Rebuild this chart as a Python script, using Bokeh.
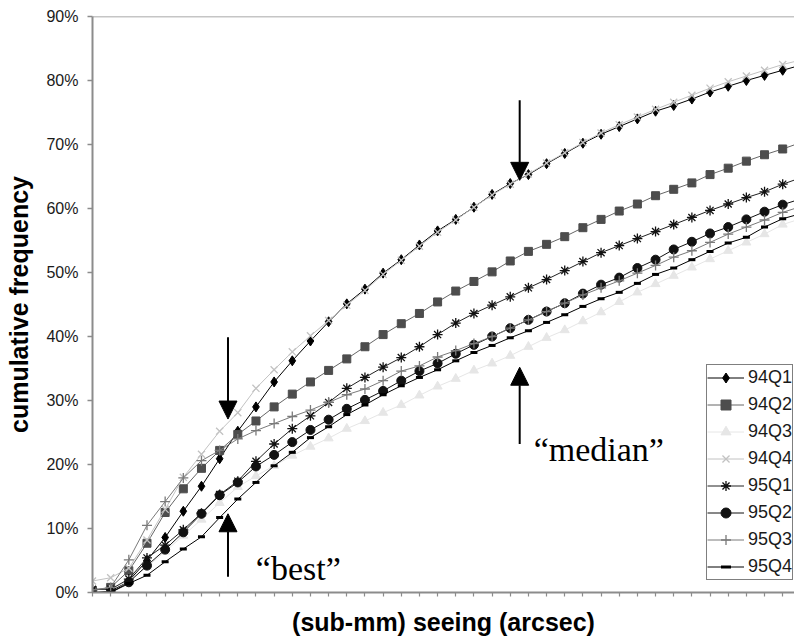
from bokeh.plotting import figure
from bokeh.models import (Range1d, FixedTicker, Span, Legend, LegendItem,
                          Arrow, NormalHead, Label)
from bokeh.embed import file_html
from bokeh.resources import INLINE

# ---------------- data (cumulative frequency, %) ----------------
seeing_index = list(range(40))

s94q1 = [0.0, 0.2, 1.8, 5.0, 8.6, 12.7, 16.6, 20.9, 25.2, 29.0, 32.9, 36.2, 39.3, 42.3,
         45.1, 47.4, 49.9, 52.0, 54.3, 56.5, 58.3, 60.2, 62.2, 63.9, 65.3, 67.0, 68.6,
         70.2, 71.6, 72.8, 74.0, 75.2, 76.1, 77.1, 78.2, 79.1, 80.0, 80.8, 81.6, 82.4]
s94q2 = [0.3, 0.8, 3.4, 7.7, 12.5, 16.2, 19.4, 22.2, 24.7, 26.8, 29.0, 31.0, 32.9, 34.7,
         36.5, 38.4, 40.3, 42.0, 43.6, 45.4, 47.1, 48.6, 50.1, 51.8, 53.3, 54.4, 55.6,
         57.0, 58.3, 59.6, 60.7, 62.0, 63.0, 64.0, 65.3, 66.3, 67.4, 68.4, 69.3, 70.3]
s94q3 = [0.5, 0.5, 1.8, 4.0, 6.4, 8.9, 11.4, 14.0, 16.5, 18.2, 19.8, 21.4, 22.8, 24.1,
         25.6, 26.8, 28.1, 29.3, 30.8, 32.2, 33.4, 34.7, 35.8, 37.0, 38.4, 39.8, 41.0,
         42.4, 43.8, 45.4, 46.9, 48.2, 49.5, 50.8, 52.1, 53.4, 54.7, 56.0, 57.5, 58.4]
s94q4 = [1.8, 2.3, 3.8, 8.2, 13.0, 18.0, 21.6, 25.2, 28.1, 31.9, 34.8, 37.6, 40.1, 42.5,
         44.9, 47.2, 49.7, 51.9, 54.1, 56.3, 58.2, 60.2, 62.1, 63.8, 65.4, 67.1, 68.7,
         70.3, 71.8, 73.1, 74.3, 75.5, 76.6, 77.7, 78.8, 79.8, 80.7, 81.6, 82.5, 83.2]
s95q1 = [0.5, 0.5, 2.1, 5.4, 7.4, 9.8, 12.4, 15.3, 17.4, 20.5, 23.2, 25.6, 27.6, 29.7,
         31.9, 33.6, 35.2, 36.7, 38.4, 40.3, 42.1, 43.6, 44.9, 46.2, 47.6, 48.9, 50.3,
         51.7, 53.1, 54.2, 55.3, 56.4, 57.5, 58.6, 59.7, 60.7, 61.7, 62.6, 63.8, 64.8]
s95q2 = [0.0, 0.0, 1.6, 4.2, 6.7, 9.4, 12.3, 15.2, 17.2, 19.7, 21.5, 23.5, 25.4, 27.0,
         28.7, 30.1, 31.5, 33.1, 34.6, 35.8, 37.3, 38.7, 40.0, 41.3, 42.6, 43.9, 45.2,
         46.7, 48.1, 49.2, 50.7, 52.0, 53.6, 54.8, 56.1, 57.1, 58.3, 59.5, 60.6, 61.5]
s95q3 = [0.4, 0.8, 5.1, 10.5, 14.2, 17.9, 20.6, 22.2, 24.0, 25.3, 26.4, 27.5, 28.5, 29.7,
         30.9, 31.8, 33.1, 34.6, 35.4, 36.8, 37.8, 38.9, 40.0, 41.3, 42.6, 43.9, 45.2,
         46.5, 47.6, 48.7, 49.9, 51.1, 52.4, 53.4, 54.7, 56.0, 57.1, 58.2, 59.4, 60.3]
s95q4 = [0.0, 0.0, 1.4, 2.7, 4.8, 6.8, 8.7, 11.7, 14.6, 17.2, 19.8, 21.9, 24.2, 25.9,
         27.8, 29.3, 30.9, 32.3, 33.6, 34.8, 36.2, 37.5, 38.6, 39.8, 40.9, 42.2, 43.4,
         44.7, 45.9, 46.9, 48.3, 49.7, 50.7, 52.0, 53.3, 54.6, 55.5, 57.1, 58.4, 59.2]

series_names = ["94Q1", "94Q2", "94Q3", "94Q4", "95Q1", "95Q2", "95Q3", "95Q4"]
series_values = [s94q1, s94q2, s94q3, s94q4, s95q1, s95q2, s95q3, s95q4]

y_ticks = [0, 10, 20, 30, 40, 50, 60, 70, 80, 90]
y_tick_labels = ["0%", "10%", "20%", "30%", "40%", "50%", "60%", "70%", "80%", "90%"]

# annotation positions (x in seeing-bin units, y in %)
best_arrow_x = 7.46
best_arrow_down = (39.9, 27.1)
best_arrow_up = (2.45, 12.3)
median_arrow_x = 23.52
median_arrow_down = (76.9, 64.4)
median_arrow_up = (23.2, 35.2)
best_text = ("\u201cbest\u201d", 8.99, 3.8)
median_text = ("\u201cmedian\u201d", 24.29, 22.4)

# ---------------- styles ----------------
styles = {
    "94Q1": dict(marker="diamond", size=10, color="#000000", line="#000000", lw=1),
    "94Q2": dict(marker="square", size=8, color="#4d4d4d", line="#666666", lw=1),
    "94Q3": dict(marker="triangle", size=9, color="#e6e6e6", line="#e6e6e6", lw=1),
    "94Q4": dict(marker="x", size=10, color="#c2c2c2", line="#c2c2c2", lw=1),
    "95Q1": dict(marker="asterisk", size=10, color="#111111", line="#222222", lw=1),
    "95Q2": dict(marker="circle", size=9, color="#111111", line="#111111", lw=1),
    "95Q3": dict(marker="cross", size=10, color="#7a7a7a", line="#7a7a7a", lw=1),
    "95Q4": dict(marker="dash", size=7, color="#000000", line="#000000", lw=1),
}

p = figure(width=794, height=643, output_backend="svg", toolbar_location=None,
           x_range=Range1d(0, 38.65), y_range=Range1d(0, 90),
           min_border_left=92, min_border_right=0, min_border_top=16,
           min_border_bottom=51)
p.background_fill_color = "white"
p.border_fill_color = "white"
p.outline_line_color = None
p.xgrid.visible = False
p.ygrid.visible = False

# top frame line
p.add_layout(Span(location=90, dimension="width", line_color="#8c8c8c", line_width=1.5))

items = []
for name, vals in zip(series_names, series_values):
    st = styles[name]
    lr = p.line(seeing_index, vals, line_color=st["line"], line_width=st["lw"])
    if st["marker"] in ("x", "asterisk", "cross", "dash"):
        mr = p.scatter(seeing_index, vals, marker=st["marker"], size=st["size"],
                       line_color=st["color"],
                       line_width=3 if st["marker"] == "dash" else 1.3)
    else:
        mr = p.scatter(seeing_index, vals, marker=st["marker"], size=st["size"],
                       fill_color=st["color"], line_color=st["color"])
    items.append(LegendItem(label=name, renderers=[lr, mr]))

legend = Legend(items=items, location=(614, 12), border_line_color="black",
                border_line_width=1, background_fill_color="white",
                background_fill_alpha=1, padding=0, spacing=2, glyph_width=37,
                glyph_height=25, label_height=25, label_standoff=4,
                label_text_font="Liberation Sans", label_text_font_size="18px",
                label_text_color="#1a1a1a", margin=0)
p.add_layout(legend)

# arrows
head = dict(size=18, fill_color="black", line_color="black")
for ax, (y0, y1) in [(best_arrow_x, best_arrow_down), (best_arrow_x, best_arrow_up),
                     (median_arrow_x, median_arrow_down), (median_arrow_x, median_arrow_up)]:
    p.add_layout(Arrow(end=NormalHead(**head), x_start=ax, y_start=y0, x_end=ax, y_end=y1,
                       line_color="black", line_width=2))

for txt, tx, ty in (best_text, median_text):
    p.add_layout(Label(x=tx, y=ty, text=txt, text_font="Liberation Serif",
                       text_font_size="34px", text_color="black",
                       text_align="left", text_baseline="alphabetic"))

# axes
p.yaxis.ticker = FixedTicker(ticks=y_ticks)
p.yaxis.major_label_overrides = {t: l for t, l in zip(y_ticks, y_tick_labels)}
p.yaxis.axis_line_color = "#8c8c8c"
p.yaxis.axis_line_width = 2
p.yaxis.major_tick_line_color = "#8c8c8c"
p.yaxis.major_tick_line_width = 1.5
p.yaxis.major_tick_out = 5
p.yaxis.major_tick_in = 0
p.yaxis.minor_tick_line_color = None
p.yaxis.major_label_standoff = 9
p.yaxis.major_label_text_font = "Liberation Sans"
p.yaxis.major_label_text_font_size = "16px"
p.yaxis.major_label_text_color = "#1a1a1a"
p.yaxis.axis_label = "cumulative frequency"
p.yaxis.axis_label_text_font = "Liberation Sans"
p.yaxis.axis_label_text_font_style = "bold"
p.yaxis.axis_label_text_font_size = "25px"
p.yaxis.axis_label_text_color = "black"
p.yaxis.axis_label_standoff = 10

p.xaxis.ticker = FixedTicker(ticks=seeing_index)
p.xaxis.major_label_overrides = {i: "" for i in seeing_index}
p.xaxis.axis_line_color = "#8c8c8c"
p.xaxis.axis_line_width = 2
p.xaxis.major_tick_line_color = "#8c8c8c"
p.xaxis.major_tick_line_width = 1.2
p.xaxis.major_tick_out = 4
p.xaxis.major_tick_in = 0
p.xaxis.minor_tick_line_color = None
p.xaxis.major_label_standoff = 0
p.xaxis.axis_label = "(sub-mm) seeing (arcsec)"
p.xaxis.axis_label_text_font = "Liberation Sans"
p.xaxis.axis_label_text_font_style = "bold"
p.xaxis.axis_label_text_font_size = "25px"
p.xaxis.axis_label_text_color = "black"
p.xaxis.axis_label_standoff = 11

open("out.html", "w").write(file_html(p, INLINE))
